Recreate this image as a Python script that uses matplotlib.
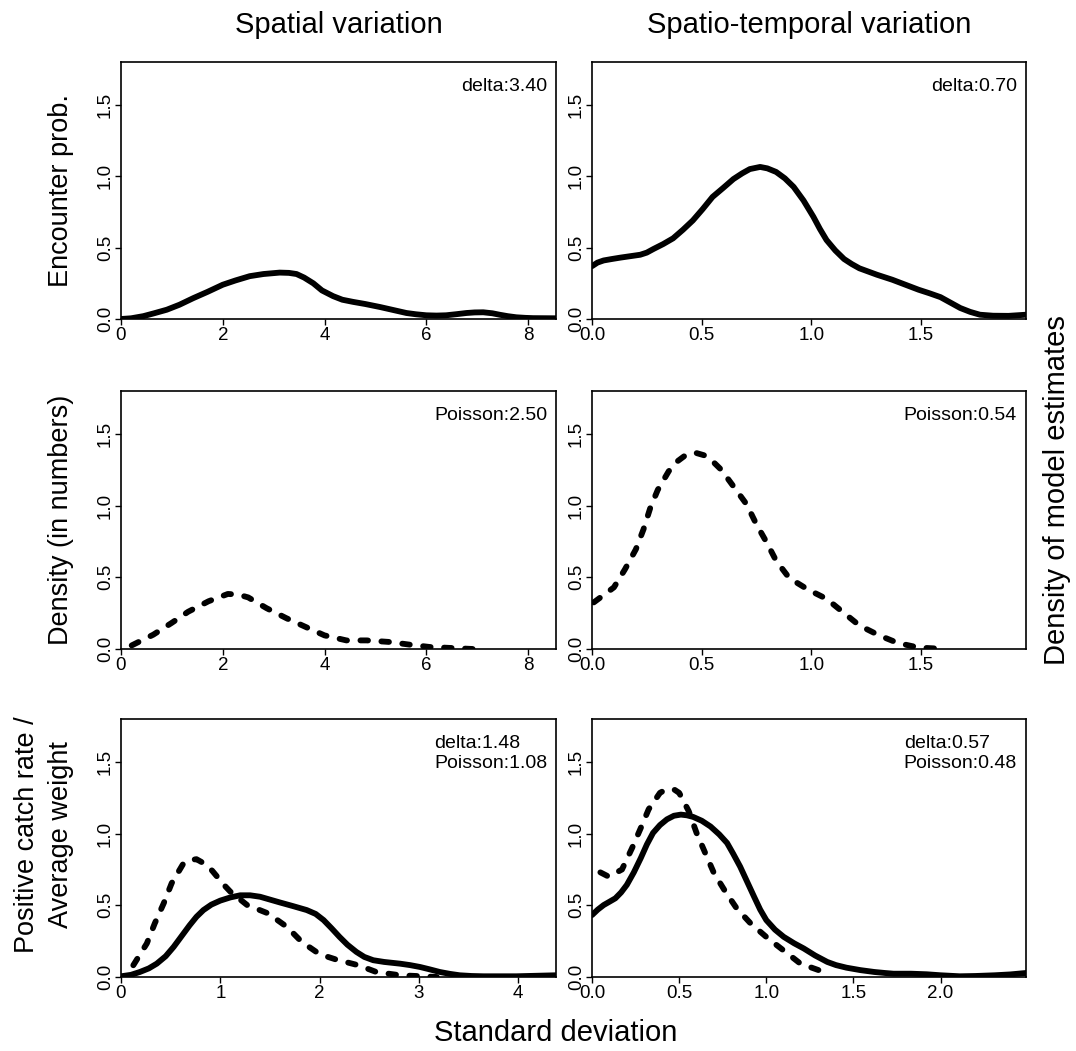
"""Density of model estimates: SD of spatial / spatio-temporal variation (R-style 3x2 panels)."""

import matplotlib

matplotlib.use("Agg")
import matplotlib.pyplot as plt

plt.rcParams["font.family"] = ["Liberation Sans", "DejaVu Sans"]

# --- data ------------------------------------------------------------------
# row 1: encounter probability (delta model, solid)
enc_sp_x = [0, 0.2, 0.44, 0.65, 0.9, 1.15, 1.42, 1.7, 2.0, 2.25, 2.53, 2.8, 3.12, 3.3,
            3.45, 3.6, 3.78, 3.95, 4.17, 4.35, 4.56, 4.8, 5.09, 5.35, 5.61, 5.8, 6.0,
            6.2, 6.39, 6.6, 6.79, 6.95, 7.12, 7.3, 7.44, 7.6, 7.77, 7.95, 8.1, 8.55]
enc_sp_y = [0.0, 0.005, 0.02, 0.04, 0.065, 0.1, 0.146, 0.19, 0.24, 0.27, 0.30, 0.315,
            0.325, 0.323, 0.315, 0.29, 0.25, 0.2, 0.16, 0.135, 0.12, 0.105, 0.084, 0.063,
            0.042, 0.033, 0.026, 0.024, 0.026, 0.034, 0.042, 0.046, 0.047, 0.04, 0.030,
            0.02, 0.012, 0.008, 0.006, 0.005]
enc_st_x = [0, 0.025, 0.053, 0.09, 0.13, 0.175, 0.22, 0.25, 0.28, 0.325, 0.37, 0.415,
            0.46, 0.505, 0.55, 0.6, 0.645, 0.685, 0.72, 0.767, 0.8, 0.84, 0.88, 0.92,
            0.965, 1.01, 1.04, 1.07, 1.11, 1.15, 1.185, 1.22, 1.3, 1.37, 1.43, 1.49,
            1.54, 1.59, 1.635, 1.68, 1.725, 1.77, 1.83, 1.9, 1.98]
enc_st_y = [0.37, 0.395, 0.41, 0.42, 0.43, 0.44, 0.45, 0.465, 0.49, 0.525, 0.565, 0.625,
            0.69, 0.77, 0.855, 0.92, 0.98, 1.02, 1.05, 1.065, 1.055, 1.03, 0.985, 0.925,
            0.83, 0.716, 0.63, 0.553, 0.48, 0.42, 0.385, 0.355, 0.31, 0.275, 0.24, 0.205,
            0.18, 0.153, 0.115, 0.077, 0.05, 0.03, 0.023, 0.022, 0.03]

# row 2: density in numbers (Poisson model, dashed)
den_sp_x = [0.21, 0.635, 1.0, 1.32, 1.72, 2.1, 2.3, 2.5, 2.86, 3.25, 3.61, 4.0, 4.43,
            4.83, 5.28, 5.68, 6.07, 6.5, 6.92]
den_sp_y = [0.025, 0.1, 0.183, 0.26, 0.333, 0.384, 0.38, 0.36, 0.285, 0.215, 0.157, 0.095,
            0.06, 0.06, 0.049, 0.03, 0.014, 0.007, 0.0]
den_st_x = [0.008, 0.1, 0.15, 0.2, 0.235, 0.266, 0.3, 0.35, 0.39, 0.425, 0.47, 0.515,
            0.55, 0.59, 0.65, 0.705, 0.75, 0.797, 0.84, 0.9, 0.985, 1.07, 1.145, 1.22,
            1.31, 1.395, 1.49, 1.59]
den_st_y = [0.325, 0.43, 0.555, 0.695, 0.835, 0.985, 1.11, 1.24, 1.31, 1.35, 1.37, 1.35,
            1.31, 1.25, 1.125, 1.01, 0.87, 0.743, 0.616, 0.495, 0.415, 0.35, 0.257, 0.164,
            0.095, 0.042, 0.01, 0.002]

# row 3: positive catch rate / average weight (delta solid, Poisson dashed)
pos_sp_delta_x = [0, 0.1, 0.19, 0.28, 0.36, 0.45, 0.53, 0.61, 0.69, 0.76, 0.83, 0.91,
                  1.0, 1.1, 1.2, 1.3, 1.4, 1.5, 1.6, 1.73, 1.87, 1.96, 2.04, 2.12, 2.2,
                  2.28, 2.37, 2.45, 2.54, 2.65, 2.81, 2.91, 3.01, 3.11, 3.21, 3.31, 3.41,
                  3.53, 3.65, 3.98, 4.38]
pos_sp_delta_y = [0.005, 0.015, 0.035, 0.06, 0.093, 0.145, 0.21, 0.285, 0.36, 0.42, 0.467,
                  0.505, 0.533, 0.555, 0.57, 0.57, 0.56, 0.54, 0.52, 0.495, 0.467, 0.44,
                  0.397, 0.34, 0.28, 0.225, 0.175, 0.14, 0.117, 0.105, 0.093, 0.083, 0.07,
                  0.053, 0.035, 0.022, 0.012, 0.007, 0.005, 0.005, 0.012]
pos_sp_pois_x = [0.124, 0.26, 0.34, 0.43, 0.51, 0.63, 0.69, 0.76, 0.86, 0.92, 0.98, 1.04,
                 1.1, 1.27, 1.48, 1.67, 1.82, 2.0, 2.17, 2.39, 2.57, 2.81, 3.04, 3.18]
pos_sp_pois_y = [0.082, 0.234, 0.374, 0.514, 0.654, 0.794, 0.815, 0.822, 0.783, 0.74,
                 0.69, 0.64, 0.596, 0.502, 0.444, 0.35, 0.245, 0.159, 0.121, 0.082, 0.035,
                 0.012, 0.005, 0.0]
pos_st_delta_x = [0, 0.033, 0.067, 0.1, 0.134, 0.167, 0.2, 0.24, 0.28, 0.315, 0.35, 0.39,
                  0.43, 0.47, 0.51, 0.545, 0.58, 0.63, 0.68, 0.73, 0.775, 0.81, 0.85, 0.89,
                  0.93, 0.965, 1.0, 1.05, 1.1, 1.16, 1.215, 1.28, 1.35, 1.4, 1.46, 1.54,
                  1.62, 1.68, 1.73, 1.83, 1.92, 2.0, 2.11, 2.2, 2.31, 2.4, 2.49]
pos_st_delta_y = [0.432, 0.47, 0.502, 0.525, 0.549, 0.59, 0.643, 0.73, 0.83, 0.925, 1.005,
                  1.06, 1.1, 1.125, 1.133, 1.128, 1.117, 1.09, 1.05, 0.995, 0.935, 0.86,
                  0.77, 0.665, 0.56, 0.47, 0.397, 0.33, 0.28, 0.235, 0.199, 0.15, 0.105,
                  0.083, 0.065, 0.048, 0.035, 0.028, 0.023, 0.023, 0.019, 0.012, 0.005,
                  0.007, 0.012, 0.018, 0.028]
pos_st_pois_x = [0.048, 0.096, 0.172, 0.23, 0.28, 0.325, 0.39, 0.42, 0.45, 0.475, 0.5,
                 0.555, 0.6, 0.65, 0.7, 0.765, 0.83, 0.91, 1.01, 1.11, 1.196, 1.33]
pos_st_pois_y = [0.73, 0.70, 0.75, 0.90, 1.04, 1.17, 1.285, 1.305, 1.313, 1.305, 1.285,
                 1.157, 1.005, 0.864, 0.724, 0.596, 0.479, 0.374, 0.269, 0.175, 0.093,
                 0.035]

col_titles = ["Spatial variation", "Spatio-temporal variation"]
row_labels = ["Encounter prob.", "Density (in numbers)",
              "Positive catch rate /\nAverage weight"]
notes = [["delta:3.40", "delta:0.70"],
         ["Poisson:2.50", "Poisson:0.54"],
         ["delta:1.48\nPoisson:1.08", "delta:0.57\nPoisson:0.48"]]
xmax = [[8.55, 1.98], [8.55, 1.98], [4.38, 2.49]]
xticks = [[[0, 2, 4, 6, 8], [0.0, 0.5, 1.0, 1.5]],
          [[0, 2, 4, 6, 8], [0.0, 0.5, 1.0, 1.5]],
          [[0, 1, 2, 3, 4], [0.0, 0.5, 1.0, 1.5, 2.0]]]
yticks = [0.0, 0.5, 1.0, 1.5]

solid = [[(enc_sp_x, enc_sp_y), (enc_st_x, enc_st_y)],
         [None, None],
         [(pos_sp_delta_x, pos_sp_delta_y), (pos_st_delta_x, pos_st_delta_y)]]
dashed = [[None, None],
          [(den_sp_x, den_sp_y), (den_st_x, den_st_y)],
          [(pos_sp_pois_x, pos_sp_pois_y), (pos_st_pois_x, pos_st_pois_y)]]

W, H = 1076, 1051
col_px = [(121, 556), (592, 1026)]
row_px = [(62, 319), (391, 649), (719, 977)]

fig = plt.figure(figsize=(W / 100, H / 100), dpi=100)

for r, (top, bot) in enumerate(row_px):
    for c, (left, right) in enumerate(col_px):
        ax = fig.add_axes([left / W, 1 - bot / H, (right - left) / W, (bot - top) / H])
        if solid[r][c] is not None:
            x, y = solid[r][c]
            ax.plot(x, y, color="black", lw=4.2, solid_capstyle="round",
                    solid_joinstyle="round")
        if dashed[r][c] is not None:
            x, y = dashed[r][c]
            ax.plot(x, y, color="black", lw=4.2, linestyle=(0, (1.3, 2.3)),
                    dash_capstyle="round", dash_joinstyle="round")
        ax.set_xlim(0, xmax[r][c])
        ax.set_ylim(0, 1.8)
        xt = xticks[r][c]
        ax.set_xticks(xt)
        if c == 0:
            ax.set_xticklabels([f"{v:g}" for v in xt])
        else:
            ax.set_xticklabels([f"{v:.1f}" for v in xt])
        ax.set_yticks(yticks)
        ax.set_yticklabels([f"{v:.1f}" for v in yticks], rotation=90, va="center")
        ax.tick_params(direction="out", length=4, width=1, labelsize=13.5, pad=2,
                       colors="black")
        ax.tick_params(axis="y", pad=1)
        for s in ax.spines.values():
            s.set_linewidth(1.2)
        ax.text(1 - 9 / (right - left), 1 - 16 / (bot - top), notes[r][c],
                transform=ax.transAxes, ha="right", va="top", fontsize=14,
                multialignment="left", linespacing=1.25)

# column titles
for c, t in enumerate(col_titles):
    left, right = col_px[c]
    fig.text((left + right) / 2 / W, 1 - 25 / H, t, ha="center", va="center", fontsize=21)

# row labels
row_x = [61, 61, 44]
for r, lab in enumerate(row_labels):
    top, bot = row_px[r]
    yc = (top + bot) / 2 if r < 2 else 835
    fig.text(row_x[r] / W, 1 - yc / H, lab, rotation=90, ha="center", va="center",
             fontsize=19.5, linespacing=1.35, multialignment="center")

fig.text(1057 / W, 1 - 490 / H, "Density of model estimates", rotation=90,
         ha="center", va="center", fontsize=21)
fig.text(556 / W, 1 - 1033 / H, "Standard deviation", ha="center", va="center",
         fontsize=21)

fig.savefig("out.png", dpi=100)
